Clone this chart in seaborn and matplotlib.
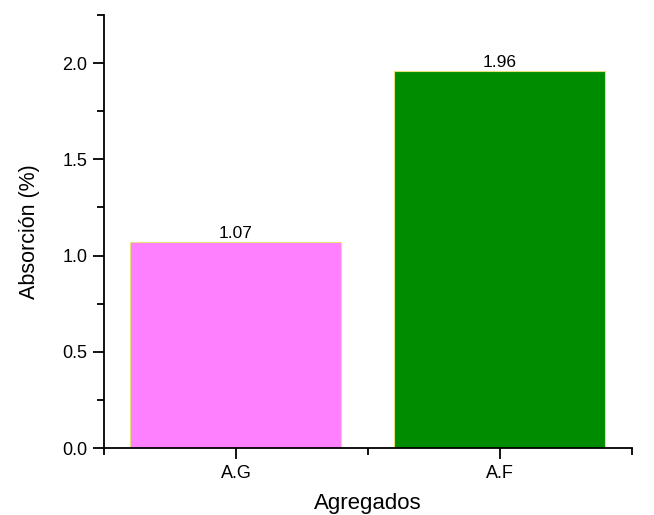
import pandas as pd
import numpy as np
import matplotlib.pyplot as plt
import seaborn as sns
from matplotlib.ticker import MultipleLocator, FixedLocator

# data
agregados = ['A.G', 'A.F']
absorcion = [1.07, 1.96]
colores = ['#FF80FF', '#008C00']

df = pd.DataFrame({'Agregados': agregados, 'Absorcion': absorcion})

sns.set_style('ticks')
plt.rcParams['font.family'] = ['Liberation Sans', 'DejaVu Sans']
plt.rcParams['text.color'] = 'black'
plt.rcParams['axes.labelcolor'] = 'black'

fig = plt.figure(figsize=(6.54, 5.15), dpi=100)
ax = fig.add_axes([0.159, 0.130, 0.807, 0.841])

sns.barplot(data=df, x='Agregados', y='Absorcion', hue='Agregados',
            palette=colores, legend=False, width=0.8, ax=ax,
            edgecolor='#E6E07A', linewidth=0.8, saturation=1)

for i, v in enumerate(absorcion):
    ax.text(i, v + 0.005, f'{v:.2f}', ha='center', va='bottom', fontsize=12.5)

ax.set_xlim(-0.5, 1.5)
ax.set_ylim(0, 2.25)
ax.yaxis.set_major_locator(MultipleLocator(0.5))
ax.yaxis.set_minor_locator(MultipleLocator(0.25))
ax.yaxis.set_major_formatter(plt.FormatStrFormatter('%.1f'))
ax.xaxis.set_minor_locator(FixedLocator([-0.5, 0.5, 1.5]))

sns.despine(ax=ax)
for s in ['left', 'bottom']:
    ax.spines[s].set_linewidth(1.3)
    ax.spines[s].set_color('black')

ax.tick_params(axis='both', which='major', direction='out', length=8, width=1.3,
               labelsize=13, colors='black', pad=4)
ax.tick_params(axis='both', which='minor', direction='out', length=5, width=1.3,
               colors='black')

ax.set_xlabel('Agregados', fontsize=16, labelpad=8)
ax.set_ylabel('Absorción (%)', fontsize=15.5, labelpad=16)

plt.savefig('out.png', dpi=100)
